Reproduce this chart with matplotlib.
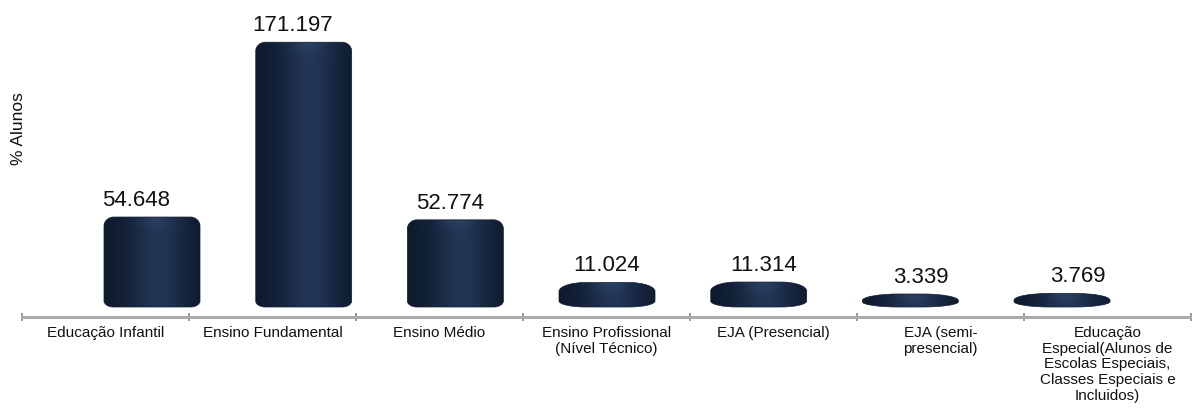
import matplotlib
matplotlib.use("Agg")
import matplotlib.pyplot as plt
import numpy as np
from matplotlib.path import Path
from matplotlib.patches import PathPatch
from matplotlib.colors import to_rgb

categories = [
    "Educação Infantil",
    "Ensino Fundamental",
    "Ensino Médio",
    "Ensino Profissional\n(Nível Técnico)",
    "EJA (Presencial)",
    "EJA (semi-\npresencial)",
    "Educação\nEspecial(Alunos de\nEscolas Especiais,\nClasses Especiais e\nIncluidos)",
]
values = [54.648, 171.197, 52.774, 11.024, 11.314, 3.339, 3.769]
value_labels = ["54.648", "171.197", "52.774", "11.024", "11.314", "3.339", "3.769"]
ylabel = "% Alunos"

plt.rcParams["font.family"] = ["Liberation Sans", "DejaVu Sans"]

W, H = 1192, 416
fig = plt.figure(figsize=(W / 100, H / 100), dpi=100)
rect = [22 / W, (H - 317) / H, 1169 / W, 309 / H]

# category axis (gray baseline + labels)
ax = fig.add_axes(rect)
# bars (the 3D plot area sits offset from the category axis)
bx = fig.add_axes(rect)
# value labels
lx = fig.add_axes(rect)

px_per_unit = 1.5
ymin = -13 / px_per_unit
ymax = ymin + 309 / px_per_unit

ax.set_xlim(-0.5, 6.5)
ax.set_ylim(ymin, ymax)
bx_xlim = (-130 / 151.67, -130 / 151.67 + 1169 / 151.67)
lx_xlim = (-113.7 / 157, -113.7 / 157 + 1169 / 157)

x = np.arange(len(values))
bars = bx.bar(x, values, width=0.633, alpha=0)
bx.set_xlim(*bx_xlim)
bx.set_ylim(ymin, ymax)

sy = (ymax - ymin) / 309   # data units per pixel (vertical)

dark = np.array(to_rgb("#0c182a"))
light = np.array(to_rgb("#2b4064"))
k = 0.5523


def cylinder(b):
    L = b.get_x()
    w = b.get_width()
    R = L + w
    h = b.get_height()
    yb = -3 * sy
    yt = h + 5 * sy
    span = (yt - yb) / sy
    rx = w / 2 * np.clip(1 - span / 55, 0.2, 0.97)
    rt = min(9, span * 0.5) * sy
    rb = min(6, span * 0.4) * sy
    verts = [
        (L, yb + rb), (L, yt - rt),
        (L, yt - rt + k * rt), (L + rx - k * rx, yt), (L + rx, yt),
        (R - rx, yt),
        (R - rx + k * rx, yt), (R, yt - rt + k * rt), (R, yt - rt),
        (R, yb + rb),
        (R, yb + rb - k * rb), (R - rx + k * rx, yb), (R - rx, yb),
        (L + rx, yb),
        (L + rx - k * rx, yb), (L, yb + rb - k * rb), (L, yb + rb),
        (L, yb + rb),
    ]
    codes = [Path.MOVETO, Path.LINETO,
             Path.CURVE4, Path.CURVE4, Path.CURVE4,
             Path.LINETO,
             Path.CURVE4, Path.CURVE4, Path.CURVE4,
             Path.LINETO,
             Path.CURVE4, Path.CURVE4, Path.CURVE4,
             Path.LINETO,
             Path.CURVE4, Path.CURVE4, Path.CURVE4,
             Path.CLOSEPOLY]
    return Path(verts, codes), (L, R, yb, yt)


u = np.linspace(0, 1, 200)
shade = 0.55 * np.exp(-((u - 0.57) / 0.28) ** 2) + 0.25 * u * (1 - u) * 2 + 0.05
for b in bars:
    path, (L, R, yb, yt) = cylinder(b)
    patch = PathPatch(path, facecolor="none", edgecolor="#101c30", lw=0.5, zorder=3)
    bx.add_patch(patch)
    nrows = 60
    v = np.linspace(1, 0, nrows)[:, None]
    hpx = (yt - yb) / sy
    top_glow = (np.exp(-((1 - v) * hpx / 10) ** 2) * 0.25
                * np.exp(-((u - 0.5) / 0.18) ** 2))
    s = np.clip(shade[None, :] + top_glow, 0, 1.1)
    img = np.clip(dark + (light - dark) * s[..., None], 0, 1)
    im = bx.imshow(img, extent=[L, R, yb, yt], aspect="auto", origin="upper",
                   interpolation="bilinear", zorder=2)
    im.set_clip_path(patch)

bx.set_xlim(*bx_xlim)
bx.set_ylim(ymin, ymax)
bx.axis("off")

lx.set_xlim(*lx_xlim)
lx.set_ylim(ymin, ymax)
lx.axis("off")
for i, (val, lab) in enumerate(zip(values, value_labels)):
    lx.annotate(lab, (i, val), xytext=(0, 16), textcoords="offset pixels",
                ha="center", va="baseline", fontsize=16, color="#111111")

# category axis styling
for side in ["top", "right", "left"]:
    ax.spines[side].set_visible(False)
ax.spines["bottom"].set_color("#ababab")
ax.spines["bottom"].set_linewidth(2.2)
ax.set_yticks([])
ax.set_xticks(x)
ax.set_xticklabels(categories, fontsize=11, color="#111111", linespacing=1.15,
                   multialignment="center")
ax.tick_params(axis="x", which="major", length=0, pad=6.5)
ax.set_xticks(np.arange(-0.5, 7, 1), minor=True)
ax.tick_params(axis="x", which="minor", length=6, width=1.2, direction="inout",
               color="#858585")
ax.patch.set_visible(False)

fig.text(19 / W, 1 - 129 / H, ylabel, rotation=90, ha="center", va="center",
         fontsize=12.5, color="#111111")

fig.savefig("out.png", dpi=100)
